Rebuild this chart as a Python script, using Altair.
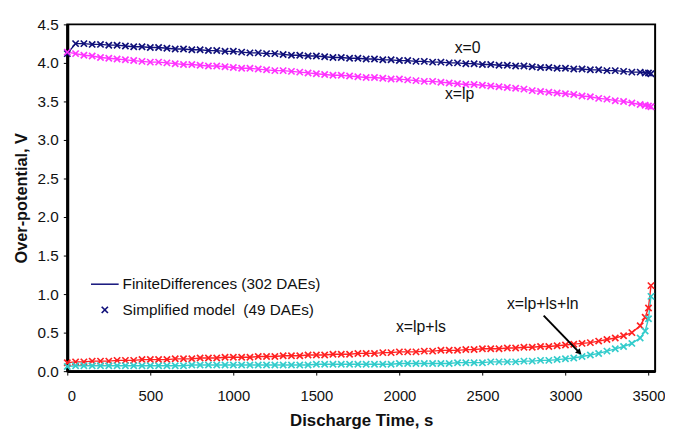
import altair as alt
import pandas as pd

# Sample times (s)
T = [0, 50, 100, 150, 200, 250, 300, 350, 400, 450,
     500, 550, 600, 650, 700, 750, 800, 850, 900, 950,
     1000, 1050, 1100, 1150, 1200, 1250, 1300, 1350, 1400, 1450,
     1500, 1550, 1600, 1650, 1700, 1750, 1800, 1850, 1900, 1950,
     2000, 2050, 2100, 2150, 2200, 2250, 2300, 2350, 2400, 2450,
     2500, 2550, 2600, 2650, 2700, 2750, 2800, 2850, 2900, 2950,
     3000, 3050, 3100, 3150, 3200, 3250, 3300, 3350, 3400, 3450,
     3480, 3500, 3515]

X0 = [4.12, 4.25, 4.25, 4.24, 4.24, 4.23, 4.23, 4.22, 4.21, 4.21,
      4.20, 4.20, 4.19, 4.18, 4.18, 4.17, 4.17, 4.16, 4.16, 4.15,
      4.15, 4.14, 4.13, 4.13, 4.12, 4.12, 4.11, 4.10, 4.10, 4.09,
      4.09, 4.08, 4.07, 4.07, 4.06, 4.06, 4.05, 4.05, 4.04, 4.04,
      4.03, 4.03, 4.02, 4.02, 4.01, 4.01, 4.00, 4.00, 3.99, 3.99,
      3.98, 3.98, 3.97, 3.97, 3.96, 3.96, 3.95, 3.94, 3.94, 3.93,
      3.93, 3.92, 3.92, 3.91, 3.91, 3.90, 3.90, 3.89, 3.88, 3.88,
      3.87, 3.87, 3.86]

XLP = [4.14, 4.12, 4.10, 4.09, 4.07, 4.06, 4.05, 4.04, 4.03, 4.02,
       4.01, 4.01, 4.00, 3.99, 3.98, 3.98, 3.97, 3.96, 3.96, 3.95,
       3.94, 3.93, 3.93, 3.92, 3.91, 3.90, 3.90, 3.89, 3.88, 3.87,
       3.86, 3.85, 3.84, 3.84, 3.83, 3.82, 3.81, 3.81, 3.80, 3.79,
       3.79, 3.78, 3.77, 3.76, 3.76, 3.75, 3.74, 3.73, 3.72, 3.72,
       3.71, 3.70, 3.69, 3.68, 3.67, 3.66, 3.64, 3.63, 3.62, 3.61,
       3.60, 3.59, 3.57, 3.56, 3.54, 3.53, 3.51, 3.50, 3.48, 3.46,
       3.45, 3.44, 3.43]

XLPLS = [0.11, 0.12, 0.12, 0.13, 0.13, 0.13, 0.14, 0.14, 0.14, 0.15,
         0.15, 0.15, 0.15, 0.16, 0.16, 0.16, 0.17, 0.17, 0.17, 0.18,
         0.18, 0.18, 0.18, 0.19, 0.19, 0.19, 0.20, 0.20, 0.20, 0.21,
         0.21, 0.21, 0.22, 0.22, 0.22, 0.23, 0.23, 0.23, 0.24, 0.24,
         0.25, 0.25, 0.25, 0.26, 0.26, 0.27, 0.27, 0.27, 0.28, 0.28,
         0.29, 0.29, 0.29, 0.30, 0.30, 0.31, 0.31, 0.32, 0.32, 0.33,
         0.34, 0.35, 0.36, 0.37, 0.39, 0.41, 0.43, 0.46, 0.50, 0.59,
         0.70, 0.82, 1.11]

XLPLSLN = [0.06, 0.07, 0.07, 0.07, 0.07, 0.07, 0.07, 0.07, 0.07, 0.07,
           0.07, 0.07, 0.07, 0.07, 0.07, 0.08, 0.08, 0.08, 0.08, 0.08,
           0.08, 0.08, 0.08, 0.08, 0.08, 0.08, 0.08, 0.08, 0.08, 0.08,
           0.09, 0.09, 0.09, 0.09, 0.09, 0.09, 0.09, 0.09, 0.09, 0.09,
           0.10, 0.10, 0.10, 0.10, 0.10, 0.10, 0.10, 0.11, 0.11, 0.11,
           0.11, 0.12, 0.12, 0.12, 0.12, 0.13, 0.13, 0.14, 0.14, 0.15,
           0.16, 0.17, 0.19, 0.21, 0.23, 0.26, 0.29, 0.32, 0.36, 0.43,
           0.52, 0.68, 0.97]

SERIES = ["x=0", "x=lp", "x=lp+ls", "x=lp+ls+ln"]
COLORS = ["#10107a", "#ff33ff", "#ff2222", "#33cccc"]

LABELS = ["x=0", "x=lp", "x=lp+ls", "x=lp+ls+ln"]
LABEL_T = [2411, 2363, 2130, 2863]
LABEL_V = [4.19, 3.59, 0.57, 0.87]

ARROW = {"t": [2869], "v": [0.72], "t2": [3080], "v2": [0.25]}

X_TICKS = [0, 500, 1000, 1500, 2000, 2500, 3000, 3500]
Y_TICKS = [0.0, 0.5, 1.0, 1.5, 2.0, 2.5, 3.0, 3.5, 4.0, 4.5]

FONT = "Liberation Sans"
CROSS = "M-1,-1L1,1M-1,1L1,-1"

rows = []
for name, vals in zip(SERIES, [X0, XLP, XLPLS, XLPLSLN]):
    for t, v in zip(T, vals):
        rows.append({"series": name, "t": t, "v": v})
df = pd.DataFrame(rows)

xscale = alt.Scale(domain=[0, 3540], nice=False, zero=False)
yscale = alt.Scale(domain=[0, 4.5], nice=False)
cscale = alt.Scale(domain=SERIES, range=COLORS)

xaxis = alt.Axis(title="Discharge Time, s", values=X_TICKS, format="d",
                 labelPadding=14, titlePadding=9, labelOverlap=False,
                 labelFontSize=15, titleFontSize=17)
yaxis = alt.Axis(title="Over-potential, V", values=Y_TICKS, format=".1f",
                 labelPadding=5, titlePadding=8, labelOverlap=False,
                 labelFontSize=15.5, titleFontSize=16.5)


def X(field):
    return alt.X(field, type="quantitative", scale=xscale, axis=xaxis)


def Y(field):
    return alt.Y(field, type="quantitative", scale=yscale, axis=yaxis)


base = alt.Chart(df)
lines = base.mark_line(strokeWidth=1.4).encode(
    x=X("t"), y=Y("v"),
    color=alt.Color("series:N", scale=cscale, legend=None),
    detail="series:N",
)
points = base.mark_point(shape=CROSS, filled=False, size=40, strokeWidth=1.7, opacity=1).encode(
    x=X("t"), y=Y("v"),
    color=alt.Color("series:N", scale=cscale, legend=None),
)

lab_df = pd.DataFrame({"label": LABELS, "t": LABEL_T, "v": LABEL_V})
labels = alt.Chart(lab_df).mark_text(font=FONT, fontSize=16, color="#111", align="center",
                                      baseline="middle").encode(
    x=X("t"), y=Y("v"), text="label:N")

arrow_df = pd.DataFrame(ARROW)
arrow_line = alt.Chart(arrow_df).mark_rule(color="black", strokeWidth=2).encode(
    x=X("t"), y=Y("v"), x2="t2:Q", y2="v2:Q")
arrow_head = alt.Chart(arrow_df).mark_point(shape="triangle", filled=True, size=45, angle=135,
                                            color="black", opacity=1).encode(
    x=X("t2"), y=Y("v2"))

one = pd.DataFrame({"k": [0]})
leg_line = alt.Chart(one).mark_rule(color="#10107a", strokeWidth=1.5).encode(
    x=alt.value(24), x2=alt.value(52), y=alt.value(263))
leg_pt = alt.Chart(one).mark_point(shape=CROSS, filled=False, size=40, strokeWidth=1.7,
                                   color="#10107a", opacity=1).encode(
    x=alt.value(38), y=alt.value(289))
leg_t1 = alt.Chart(one).mark_text(font=FONT, fontSize=15.5, color="#111", align="left",
                                  baseline="middle").encode(
    x=alt.value(56), y=alt.value(263), text=alt.value("FiniteDifferences (302 DAEs)"))
leg_t2 = alt.Chart(one).mark_text(font=FONT, fontSize=15.5, color="#111", align="left",
                                  baseline="middle").encode(
    x=alt.value(56), y=alt.value(289), text=alt.value("Simplified model\u00a0 (49 DAEs)"))

chart = alt.layer(lines, points, labels, arrow_line, arrow_head,
                  leg_line, leg_pt, leg_t1, leg_t2).properties(
    width=595, height=351,
    autosize=alt.AutoSizeParams(type="none"),
    padding={"left": 60, "top": 14, "right": 10, "bottom": 57},
    background="white",
).configure_view(
    stroke="black", strokeWidth=2
).configure_axis(
    grid=False, domainColor="black", domainWidth=3, tickColor="black", tickSize=4,
    labelFont=FONT, labelColor="#111",
    titleFont=FONT, titleFontWeight="bold", titleColor="#111",
)

chart.save("out.html", embed_options={"renderer": "svg", "actions": False})
